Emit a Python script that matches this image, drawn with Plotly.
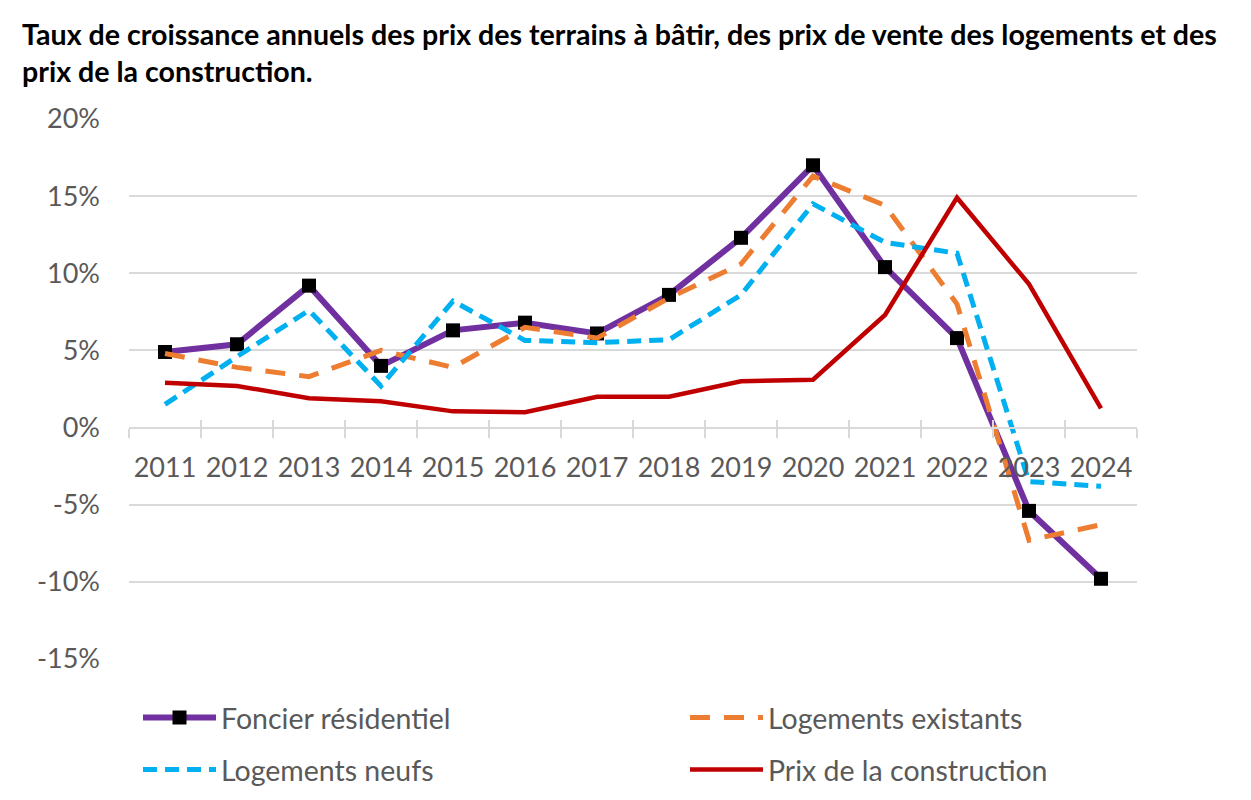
import plotly.graph_objects as go

years = [str(y) for y in range(2011, 2025)]
foncier = [4.9, 5.4, 9.2, 4.0, 6.3, 6.8, 6.1, 8.6, 12.3, 17.0, 10.4, 5.8, -5.4, -9.8]
existants = [4.8, 3.9, 3.3, 5.0, 3.9, 6.5, 5.8, 8.4, 10.6, 16.3, 14.4, 8.0, -7.3, -6.3]
neufs = [1.5, 4.6, 7.6, 2.7, 8.2, 5.65, 5.5, 5.7, 8.6, 14.5, 12.0, 11.3, -3.5, -3.8]
construction = [2.9, 2.7, 1.9, 1.7, 1.05, 1.0, 2.0, 2.0, 3.0, 3.1, 7.3, 14.9, 9.3, 1.25]
y_ticks = [-15, -10, -5, 0, 5, 10, 15, 20]
y_min, y_max = -15, 20

title_text = ("Taux de croissance annuels des prix des terrains à bâtir, des prix de vente des logements et des"
              "<br>prix de la construction.")

FONT = "Lato"
GRID = "#d9d9d9"
TXT = "#595959"

fig = go.Figure()
fig.add_trace(go.Scatter(x=years, y=foncier, name="Foncier résidentiel", mode="lines+markers",
                         line=dict(color="#7030A0", width=6),
                         marker=dict(symbol="square", size=14, color="black"),
                         legend="legend"))
fig.add_trace(go.Scatter(x=years, y=existants, name="Logements existants", mode="lines",
                         line=dict(color="#ED7D31", width=5, dash="20px,14px"),
                         legend="legend2"))
fig.add_trace(go.Scatter(x=years, y=neufs, name="Logements neufs", mode="lines",
                         line=dict(color="#00B0F0", width=5, dash="14px,8px"),
                         legend="legend3"))
fig.add_trace(go.Scatter(x=years, y=construction, name="Prix de la construction", mode="lines",
                         line=dict(color="#C00000", width=4.5),
                         legend="legend4"))
# invisible trace to hold a second x axis for crossing tick marks
fig.add_trace(go.Scatter(x=years, y=[None]*len(years), xaxis="x2", showlegend=False,
                         hoverinfo="skip", mode="lines"))

zero_pos = (0 - y_min) / (y_max - y_min)

def leg(x_px, y_px):
    return dict(orientation="h", xref="container", yref="container", x=x_px/1251, y=1-y_px/800,
                xanchor="left", yanchor="middle", itemwidth=73,
                font=dict(family=FONT, size=28.5, color=TXT), bgcolor="rgba(0,0,0,0)")

fig.update_layout(
    width=1251, height=800,
    paper_bgcolor="white", plot_bgcolor="white",
    margin=dict(l=121, r=122, t=111, b=149, autoexpand=False),
    title=dict(text=title_text, x=14/1251, xanchor="left", xref="container",
               y=1-37/800, yanchor="top", yref="container",
               font=dict(family=FONT, size=28.6, color="black", weight="bold")),
    xaxis=dict(type="category", range=[-0.5, 13.5], anchor="free", position=zero_pos,
               showline=True, linecolor=GRID, linewidth=2, automargin=False,
               ticks="outside", ticklen=9, tickwidth=2, tickcolor=GRID, tickson="boundaries",
               showgrid=False, tickangle=0, tickfont=dict(family=FONT, size=27, color=TXT),
               ticklabelstandoff=16),
    xaxis2=dict(type="category", range=[-0.5, 13.5], overlaying="x", anchor="free", position=zero_pos,
                side="bottom", showline=False, ticks="inside", ticklen=8, tickwidth=2, automargin=False,
                tickcolor=GRID, tickson="boundaries", showticklabels=False, showgrid=False),
    yaxis=dict(range=[y_min, y_max], tickvals=y_ticks, ticktext=[f"{v}%" for v in y_ticks],
               showgrid=True, gridcolor=GRID, gridwidth=2, zeroline=False, showline=False,
               automargin=False,
               tickfont=dict(family=FONT, size=27, color=TXT), ticklabelstandoff=28),
    legend=leg(130, 710),
    legend2=leg(677, 710),
    legend3=leg(130, 762),
    legend4=leg(677, 762),
)

fig.write_html("out.html")
